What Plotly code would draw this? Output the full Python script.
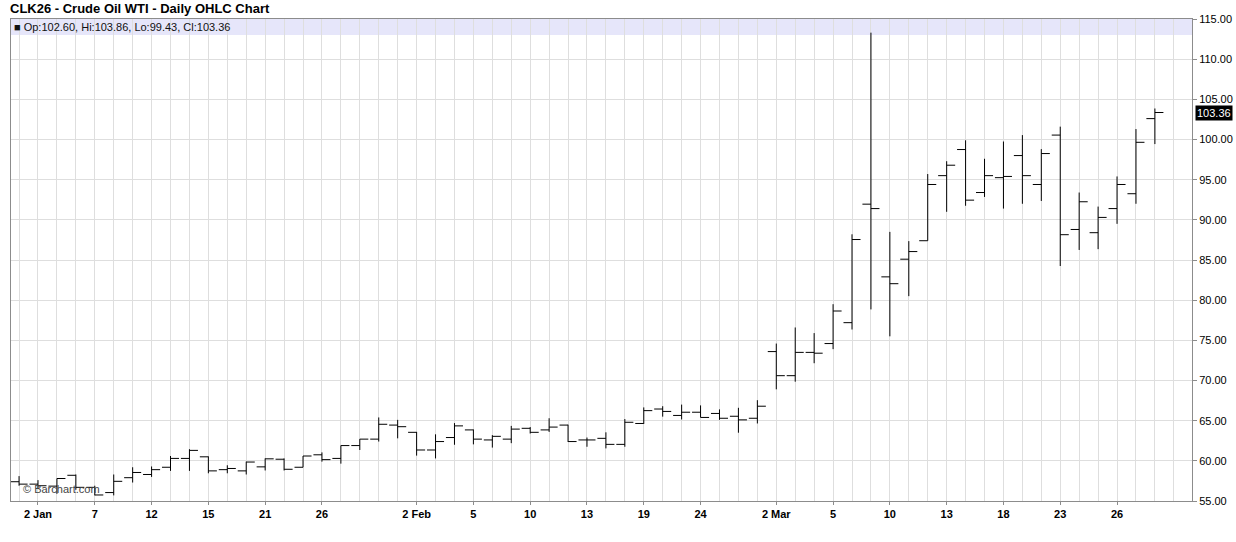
import plotly.graph_objects as go

# ---- data -------------------------------------------------------------
dates = [
    "2025-12-31", "2026-01-02", "2026-01-05", "2026-01-06", "2026-01-07", "2026-01-08", "2026-01-09",
    "2026-01-12", "2026-01-13", "2026-01-14", "2026-01-15", "2026-01-16", "2026-01-20", "2026-01-21",
    "2026-01-22", "2026-01-23", "2026-01-26", "2026-01-27", "2026-01-28", "2026-01-29", "2026-01-30",
    "2026-02-02", "2026-02-03", "2026-02-04", "2026-02-05", "2026-02-06", "2026-02-09", "2026-02-10",
    "2026-02-11", "2026-02-12", "2026-02-13", "2026-02-17", "2026-02-18", "2026-02-19", "2026-02-20",
    "2026-02-23", "2026-02-24", "2026-02-25", "2026-02-26", "2026-02-27", "2026-03-02", "2026-03-03",
    "2026-03-04", "2026-03-05", "2026-03-06", "2026-03-09", "2026-03-10", "2026-03-11", "2026-03-12",
    "2026-03-13", "2026-03-16", "2026-03-17", "2026-03-18", "2026-03-19", "2026-03-20", "2026-03-23",
    "2026-03-24", "2026-03-25", "2026-03-26", "2026-03-27", "2026-03-30",
]

opens = [
    57.40, 57.10, 56.85, 58.20, 56.70, 56.05, 57.90,
    58.30, 59.20, 60.30, 60.50, 58.90, 58.75, 59.25,
    60.20, 59.20, 60.75, 60.30, 61.90, 62.70, 64.45,
    63.55, 61.35, 62.90, 63.85, 62.60, 62.70, 64.05,
    63.85, 64.45, 62.60, 62.80, 62.05, 64.65, 66.45,
    65.65, 66.05, 65.90, 65.55, 65.30, 73.60, 70.60,
    73.50, 74.60, 77.20, 91.95, 82.90, 85.10, 87.40,
    95.50, 98.75, 93.40, 95.25, 98.00, 94.40, 100.55,
    88.80, 88.40, 91.40, 93.25, 102.60,
]
highs = [
    58.10, 57.60, 57.80, 58.30, 56.90, 58.30, 59.20,
    59.30, 60.60, 61.45, 60.55, 59.45, 59.90, 60.30,
    60.30, 60.60, 61.05, 61.90, 62.70, 65.40, 65.10,
    63.60, 63.30, 64.70, 63.90, 63.20, 64.35, 64.20,
    65.30, 64.50, 62.90, 63.55, 65.20, 66.65, 66.80,
    67.00, 66.90, 66.40, 66.60, 67.55, 74.60, 76.60,
    75.90, 79.50, 88.20, 113.30, 88.50, 87.35, 95.70,
    97.30, 99.90, 97.60, 99.75, 100.55, 98.80, 101.60,
    93.40, 91.65, 95.40, 101.30, 103.86,
]
lows = [
    56.90, 56.60, 55.90, 56.40, 55.70, 55.70, 57.30,
    58.00, 58.75, 58.75, 58.45, 58.45, 58.30, 58.80,
    58.80, 59.20, 59.90, 59.65, 61.35, 62.40, 62.80,
    60.65, 60.30, 62.00, 62.05, 61.65, 62.20, 63.40,
    63.60, 62.35, 61.75, 61.55, 61.75, 64.60, 65.50,
    65.15, 65.40, 65.10, 63.50, 64.65, 68.90, 69.85,
    72.15, 73.90, 76.35, 78.85, 75.50, 80.50, 87.40,
    91.00, 91.75, 92.85, 91.40, 92.00, 92.35, 84.25,
    86.25, 86.35, 89.50, 92.00, 99.43,
]
closes = [
    57.10, 56.90, 57.80, 56.70, 55.75, 57.45, 58.55,
    58.90, 60.30, 61.30, 58.75, 59.05, 59.85, 60.25,
    58.95, 60.60, 60.15, 61.90, 62.70, 64.55, 64.25,
    61.35, 62.40, 64.35, 62.70, 63.05, 63.95, 63.55,
    64.20, 62.40, 62.60, 62.05, 64.80, 66.25, 66.15,
    66.05, 65.40, 65.30, 65.10, 66.80, 70.60, 73.50,
    73.40, 78.65, 87.55, 91.40, 82.05, 86.05, 94.40,
    96.80, 92.45, 95.50, 95.40, 95.50, 98.25, 88.15,
    92.25, 90.30, 94.40, 99.65, 103.36,
]

tick_dates = ["2026-01-02", "2026-01-07", "2026-01-12", "2026-01-15", "2026-01-21", "2026-01-26",
              "2026-02-02", "2026-02-05", "2026-02-10", "2026-02-13", "2026-02-19", "2026-02-24",
              "2026-03-02", "2026-03-05", "2026-03-10", "2026-03-13", "2026-03-18", "2026-03-23",
              "2026-03-26"]
tick_text = ["2 Jan", "7", "12", "15", "21", "26", "2 Feb", "5", "10", "13", "19", "24",
             "2 Mar", "5", "10", "13", "18", "23", "26"]

y_ticks = [55, 60, 65, 70, 75, 80, 85, 90, 95, 100, 105, 110, 115]

# ---- figure -----------------------------------------------------------
FONT = "Liberation Sans, Arial, sans-serif"
x_idx = list(range(len(dates)))
tickvals = [dates.index(d) for d in tick_dates]

fig = go.Figure()
fig.add_trace(go.Ohlc(
    x=x_idx, open=opens, high=highs, low=lows, close=closes,
    increasing=dict(line=dict(color="#000000", width=1)),
    decreasing=dict(line=dict(color="#000000", width=1)),
    tickwidth=0.45, hoverinfo="skip", showlegend=False,
))

W, H = 1236, 542
L_M, R_M, T_M, B_M = 11, 44, 19, 41
pw, ph = W - L_M - R_M, H - T_M - B_M

def px_x(px):
    return (px - L_M) / pw

def px_y(py):
    return (H - B_M - py) / ph

grid = "#dedede"
axis_col = "#8c8c8c"

fig.update_layout(
    width=W, height=H,
    margin=dict(l=L_M, r=R_M, t=T_M, b=B_M, pad=0, autoexpand=False),
    paper_bgcolor="#ffffff", plot_bgcolor="#ffffff",
    font=dict(family=FONT, size=11, color="#000000"),
    showlegend=False,
    xaxis=dict(
        range=[-0.426, 61.96],
        rangeslider=dict(visible=False),
        tickmode="array", tickvals=tickvals, ticktext=tick_text,
        tickfont=dict(family=FONT, size=11, color="#000000", weight="bold"),
        ticks="outside", ticklen=3, tickcolor=axis_col,
        showgrid=True, gridcolor=grid, gridwidth=1,
        minor=dict(tickmode="linear", tick0=0, dtick=1, showgrid=True,
                   gridcolor=grid, gridwidth=1, ticks=""),
        showline=True, linecolor=axis_col, linewidth=1, mirror=True,
        zeroline=False, fixedrange=True, automargin=False,
    ),
    yaxis=dict(
        side="right", range=[55, 115],
        tickmode="array", tickvals=y_ticks, tickformat=".2f",
        tickfont=dict(family=FONT, size=11, color="#000000"),
        ticks="outside", ticklen=4, tickcolor=axis_col,
        showgrid=True, gridcolor=grid, gridwidth=1,
        showline=True, linecolor=axis_col, linewidth=1, mirror=True,
        zeroline=False, fixedrange=True, automargin=False,
    ),
)

# lavender info band across the top of the plot
fig.add_shape(type="rect", xref="x domain", yref="y domain",
              x0=0, x1=1, y0=1 - 16 / ph, y1=1,
              fillcolor="#e6e6fa", line=dict(width=0), layer="below")

# title
fig.add_annotation(xref="paper", yref="paper", x=px_x(8), y=px_y(8.5),
                   xanchor="left", yanchor="middle", showarrow=False,
                   text="<b>CLK26 - Crude Oil WTI - Daily OHLC Chart</b>",
                   font=dict(family=FONT, size=13, color="#000000"))

# last bar info line
info = "■ Op:%.2f, Hi:%.2f, Lo:%.2f, Cl:%.2f" % (opens[-1], highs[-1], lows[-1], closes[-1])
fig.add_annotation(xref="paper", yref="paper", x=px_x(12), y=px_y(27),
                   xanchor="left", yanchor="middle", showarrow=False,
                   text=info, font=dict(family=FONT, size=11, color="#111111"))

# watermark
fig.add_annotation(xref="paper", yref="paper", x=px_x(21), y=px_y(488.5),
                   xanchor="left", yanchor="middle", showarrow=False,
                   text="© Barchart.com", font=dict(family=FONT, size=11, color="#444444"))

# last price marker on the right axis
fig.add_annotation(xref="paper", yref="y", x=1, y=closes[-1],
                   xanchor="left", yanchor="middle", xshift=3, showarrow=False,
                   text="%.2f" % closes[-1], bgcolor="#000000", borderpad=1,
                   font=dict(family=FONT, size=11, color="#ffffff"))

fig.write_html("out.html", config={"displayModeBar": False},
               post_script="document.body.style.margin='0px';document.body.style.padding='0px';")
